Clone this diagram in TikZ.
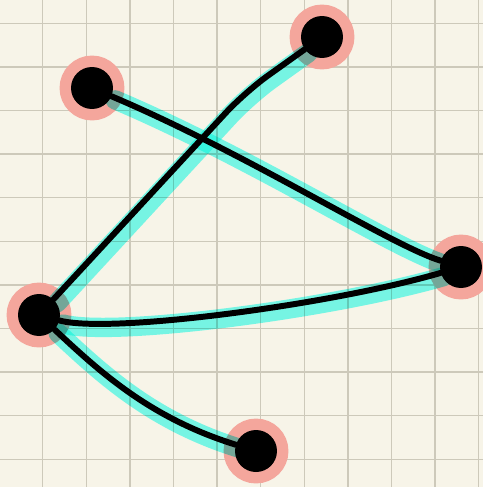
\documentclass[tikz,border=0pt]{standalone}
\usepackage{xcolor}
\usepackage{tikz}
\usetikzlibrary{calc}

\definecolor{paper}{RGB}{247,244,232}
\definecolor{gridgray}{RGB}{205,201,186}
\definecolor{halopink}{RGB}{244,166,156}
\definecolor{hlcyan}{RGB}{122,255,250}

\begin{document}
\begin{tikzpicture}[x=0.02cm, y=-0.02cm,
    gridline/.style={draw=gridgray, line width=0.9pt},
    dot/.style={circle, fill=black, inner sep=0pt, minimum size=0.84cm,
        preaction={draw=halopink, line width=13pt}},
    wire/.style={line width=3.4pt, line cap=round, line join=round,
        preaction={draw=hlcyan, line width=11pt, line cap=round,
            blend mode=multiply, transform canvas={shift={(2pt,-2pt)}}}}]
    % Paper and squares
    \useasboundingbox (0,0) rectangle (483,487);
    \fill[paper] (0,0) rectangle (483,487);
    \foreach \k in {0,...,10} {
        \draw[gridline] ({42.7+43.6*\k},0) -- ({42.7+43.6*\k},487);
        \draw[gridline] (0,{23.3+43.6*\k}) -- (483,{23.3+43.6*\k});
    }
    % Dots
    \node[dot] (a) at (322,37) {};
    \node[dot] (b) at (92,88) {};
    \node[dot] (c) at (461,267) {};
    \node[dot] (d) at (39,315) {};
    \node[dot] (e) at (256,451) {};
    % Strokes
    \draw[wire] (b) .. controls (250,155) and (390,245) .. (c);
    \draw[wire, rounded corners=16pt] (d) -- (245,92) -- (a);
    \draw[wire] (d) .. controls (110,334) and (330,305) .. (c);
    \draw[wire] (d) .. controls (100,372) and (150,418) .. (e);
\end{tikzpicture}
\end{document}
